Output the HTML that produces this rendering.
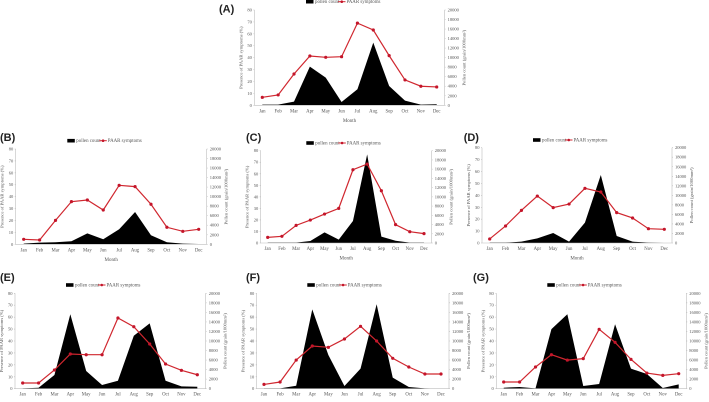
<!DOCTYPE html>
<html lang="en">
<head>
<meta charset="utf-8">
<title>Pollen count and PAAR symptoms by month</title>
<style>
html,body{margin:0;padding:0;background:#fff;}
body{width:709px;height:402px;overflow:hidden;}
svg{display:block;filter:blur(0.3px);}
text{font-family:"Liberation Serif",serif;fill:#555;}
.letter{font-family:"Liberation Sans",sans-serif;font-size:11px;font-weight:700;fill:#222;}
</style>
</head>
<body>
<svg id="figure" width="709" height="402" viewBox="0 0 709 402" xmlns="http://www.w3.org/2000/svg"></svg>
<script>
const months = ['Jan','Feb','Mar','Apr','May','Jun','Jul','Aug','Sep','Oct','Nov','Dec'];
const percentTicks = [0,10,20,30,40,50,60,70,80];
const pollenTicks = [0,2000,4000,6000,8000,10000,12000,14000,16000,18000,20000];

const symptomsA = [6.7,8.7,26.3,41.4,40.3,40.8,69,63.2,41.7,21.3,16,15.4];
const pollenA = [140,140,770,8110,5800,700,3360,13150,4050,980,140,210];
const symptomsB = [4.2,3.6,20.1,35.8,37.2,28.8,49.5,48.4,33.6,14.3,10.9,12.6];
const pollenB = [140,350,420,630,2300,1050,3150,6780,1890,420,140,70];
const symptomsC = [4.9,5.8,15.3,19.9,25.1,30,63.5,68.4,45.3,15.9,9.8,8.1];
const pollenC = [70,70,70,430,2310,720,4770,19200,1370,500,70,70];
const symptomsD = [3.4,14.3,27.4,39.4,29.7,32.7,45.9,42.8,25.5,21,12,11.5];
const pollenD = [70,70,280,980,2100,280,4270,14270,1470,280,70,0];
const symptomsE = [4.8,4.8,15.7,29.1,28.5,28.5,59.3,52,37.5,20.7,15.4,11.7];
const pollenE = [70,210,2870,15600,3700,770,1680,11100,13700,1680,490,420];
const symptomsF = [3.6,5.6,24,35.8,34.7,41.7,52.3,40,25.5,18.2,12.3,12.3];
const pollenF = [70,70,630,16640,7060,560,4200,17700,2310,350,70,0];
const symptomsG = [5.6,5.6,18.2,28.5,24,25.2,49.8,38.9,24.6,13.1,11.2,12.6];
const pollenG = [210,350,70,12500,15600,560,980,13500,4200,3080,140,910];

const NS = 'http://www.w3.org/2000/svg';
const figure = document.getElementById('figure');
const LINE_RED = '#d0272f';
const MARK_RED = '#c4152a';

function make(tag, attrs, parent, content) {
  const node = document.createElementNS(NS, tag);
  for (const k in attrs) node.setAttribute(k, attrs[k]);
  if (content !== undefined) node.textContent = content;
  parent.appendChild(node);
  return node;
}

function drawPanel(cfg) {
  const g = make('g', {}, figure);
  
  

  const xScale = i => cfg.jan + (cfg.dec - cfg.jan) * i / (months.length - 1);
  const yPct = v => cfg.base - (cfg.base - cfg.top) * v / 80;
  const yPollen = v => cfg.base - (cfg.base - cfg.top) * v / 20000;

  const letter = make('text', {x: cfg.lx, y: cfg.ly + 4, class: 'letter'}, g, '(' + cfg.id + ')');
  
  

  // pollen area
  let d = 'M' + xScale(0) + ' ' + cfg.base;
  cfg.pollen.forEach((v, i) => { d += ' L' + xScale(i).toFixed(2) + ' ' + yPollen(v).toFixed(2); });
  d += ' L' + xScale(months.length - 1) + ' ' + cfg.base + ' Z';
  const area = make('path', {d: d, fill: '#000'}, g);
  
  

  // axes
  const axisAttrs = {stroke: '#bdbdbd', 'stroke-width': 0.6, fill: 'none'};
  const axisPath = 'M' + cfg.left + ' ' + cfg.top + ' V' + cfg.base + ' H' + cfg.right + ' V' + cfg.top;
  const axes = make('path', Object.assign({d: axisPath}, axisAttrs), g);
  
  

  percentTicks.forEach(t => {
    const lbl = make('text', {x: cfg.left - 2.5, y: yPct(t) + 1.5, 'text-anchor': 'end', 'font-size': 4.5}, g, t);
    
    
    make('line', Object.assign({x1: cfg.left - 1, x2: cfg.left, y1: yPct(t), y2: yPct(t)}, axisAttrs), g);
  });
  pollenTicks.forEach(t => {
    const lbl = make('text', {x: cfg.right + 3, y: yPollen(t) + 1.5, 'font-size': 4.5}, g, t);
    
    
    make('line', Object.assign({x1: cfg.right, x2: cfg.right + 1, y1: yPollen(t), y2: yPollen(t)}, axisAttrs), g);
  });
  months.forEach((m, i) => {
    const lbl = make('text', {x: xScale(i), y: cfg.base + 7, 'text-anchor': 'middle', 'font-size': 4.8}, g, m);
    
    
  });

  const midX = (cfg.left + cfg.right) / 2;
  const midY = (cfg.top + cfg.base) / 2;
  const xTitle = make('text', {x: midX, y: cfg.base + 16.5, 'text-anchor': 'middle', 'font-size': 5}, g, 'Month');
  
  
  const lx = cfg.left - 12;
  const yTitle = make('text', {x: lx, y: midY, 'text-anchor': 'middle', 'font-size': 4.6, transform: 'rotate(-90 ' + lx + ' ' + midY + ')'}, g, 'Presence of PAAR symptoms (%)');
  
  
  const rx = cfg.right + 21;
  const rTitle = make('text', {x: rx, y: midY, 'text-anchor': 'middle', 'font-size': 4.6, transform: 'rotate(-90 ' + rx + ' ' + midY + ')'}, g, 'Pollen count (grain/1000mm²)');
  
  

  // symptom line
  const pts = cfg.symptoms.map((v, i) => xScale(i).toFixed(2) + ',' + yPct(v).toFixed(2)).join(' ');
  const line = make('polyline', {points: pts, fill: 'none', stroke: LINE_RED, 'stroke-width': 1.2}, g);
  
  
  cfg.symptoms.forEach((v, i) => {
    const pt = make('circle', {cx: xScale(i), cy: yPct(v), r: 1.6, fill: MARK_RED}, g);
    
    
  });

  // legend
  const legend = make('g', {}, g);
  
  
  const swatch = make('rect', {x: cfg.legX, y: cfg.legY - 1.8, width: 7.5, height: 3.6, fill: '#000'}, legend);
  
  
  const t1 = make('text', {x: cfg.legX + 9, y: cfg.legY + 1.5, 'font-size': 4.9}, legend, 'pollen count');
  
  
  const ln = make('line', {x1: cfg.legX + 32, x2: cfg.legX + 39.5, y1: cfg.legY, y2: cfg.legY, stroke: LINE_RED, 'stroke-width': 1}, legend);
  
  
  const lnDot = make('circle', {cx: cfg.legX + 35.75, cy: cfg.legY, r: 1.3, fill: MARK_RED}, legend);
  
  
  const t2 = make('text', {x: cfg.legX + 40.5, y: cfg.legY + 1.5, 'font-size': 4.9}, legend, 'PAAR symptoms');
  
  
}

drawPanel({id:'A', symptoms:symptomsA, pollen:pollenA, left:254.4, right:444.6, jan:262.3, dec:436.7, top:10, base:105.3, lx:219, ly:8.7, legX:306, legY:1.7});
drawPanel({id:'B', symptoms:symptomsB, pollen:pollenB, left:15.7, right:206.7, jan:23.7, dec:198.7, top:149, base:244.3, lx:0, ly:137, legX:67.3, legY:140.7});
drawPanel({id:'C', symptoms:symptomsC, pollen:pollenC, left:260.7, right:431.7, jan:267.7, dec:424, top:150.7, base:243, lx:246, ly:137, legX:306.3, legY:143});
drawPanel({id:'D', symptoms:symptomsD, pollen:pollenD, left:482, right:672, jan:489.7, dec:664.3, top:147.7, base:243, lx:463.7, ly:137, legX:533, legY:140});
drawPanel({id:'E', symptoms:symptomsE, pollen:pollenE, left:15, right:205.7, jan:22.7, dec:197.3, top:293.3, base:388.7, lx:0, ly:277, legX:66, legY:285});
drawPanel({id:'F', symptoms:symptomsF, pollen:pollenF, left:256.7, right:449, jan:264, dec:441, top:293.3, base:388.7, lx:246, ly:277, legX:307.3, legY:285});
drawPanel({id:'G', symptoms:symptomsG, pollen:pollenG, left:496.3, right:686.3, jan:503.7, dec:678.7, top:293.3, base:388.7, lx:473, ly:277, legX:547.3, legY:285});
</script>
</body>
</html>
